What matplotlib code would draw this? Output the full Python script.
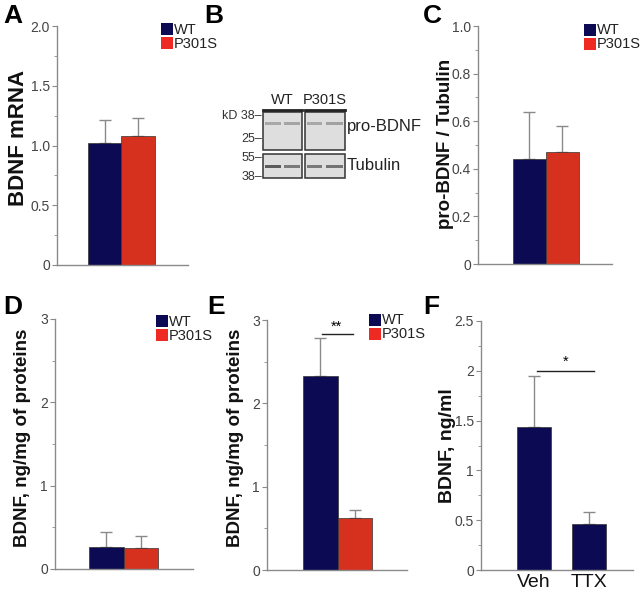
import matplotlib
matplotlib.use('Agg')
import matplotlib.pyplot as plt
from matplotlib.patches import Rectangle
import numpy as np

plt.rcParams['font.family'] = ['Liberation Sans', 'DejaVu Sans']

W, H = 640, 592
NAVY = '#0c0a52'
RED = '#d6301f'
RED_LEG = '#ee2a22'
GREY = '#8a8a8a'
TXT = '#444444'

groups = ['WT', 'P301S']

# panel A: BDNF mRNA
mrna_mean = [1.02, 1.08]
mrna_err = [0.19, 0.15]
# panel C: pro-BDNF / Tubulin
pro_mean = [0.44, 0.47]
pro_err = [0.20, 0.11]
# panel D: BDNF ng/mg (first set)
bdnf_d_mean = [0.26, 0.25]
bdnf_d_err = [0.19, 0.15]
# panel E: BDNF ng/mg (second set)
bdnf_e_mean = [2.33, 0.62]
bdnf_e_err = [0.46, 0.10]
# panel F: BDNF ng/ml, treatment
treat = ['Veh', 'TTX']
treat_mean = [1.44, 0.46]
treat_err = [0.51, 0.12]

# panel B: blot band intensities (0 = none, 1 = black), per lane
lane_groups = ['WT', 'P301S']
kd_upper = ['38', '25']
kd_lower = ['55', '38']
probdnf_band = [0.35, 0.38, 0.35, 0.40]
tubulin_band = [0.85, 0.65, 0.65, 0.70]

fig = plt.figure(figsize=(6.4, 5.92), dpi=100)


def px_axes(x0, y0, x1, y1):
    return fig.add_axes([x0 / W, 1 - y1 / H, (x1 - x0) / W, (y1 - y0) / H])


def ftext(x, y, s, **kw):
    fig.text(x / W, 1 - y / H, s, **kw)


def ylabel_px(x, y, s, size):
    ftext(x, y, s, rotation=90, ha='center', va='center', fontsize=size,
          fontweight='bold', color='#111111')


def legend_box(x, y, labels, colors):
    for i, (lab, c) in enumerate(zip(labels, colors)):
        yy = y + i * 14
        fig.add_artist(Rectangle((x / W, 1 - (yy + 12) / H), 12 / W, 12 / H,
                                 transform=fig.transFigure, color=c, lw=0))
        ftext(x + 12.5, yy + 6.5, lab, fontsize=10.5, color='#222222',
              va='center', ha='left')


def bar_panel(ax, means, errs, colors, ymax, major, minor, ticklabels, xlim,
              width=1.0, xs=None):
    if xs is None:
        xs = np.arange(len(means)) * width
    ax.bar(xs, means, width=width, color=colors, edgecolor='#333333', lw=0.5,
           zorder=2)
    ax.errorbar(xs, means, yerr=[np.zeros(len(errs)), errs], fmt='none',
                ecolor=GREY, elinewidth=1.0, capsize=4, capthick=1.0, zorder=1)
    ax.set_ylim(0, ymax)
    ax.set_xlim(*xlim)
    ax.set_yticks(major)
    ax.set_yticklabels(ticklabels)
    ax.set_yticks(minor, minor=True)
    for s in ['top', 'right']:
        ax.spines[s].set_visible(False)
    for s in ['left', 'bottom']:
        ax.spines[s].set_color(GREY)
        ax.spines[s].set_linewidth(1.0)
    ax.tick_params(axis='y', which='major', length=3.5, color=GREY,
                   labelsize=10, labelcolor=TXT, pad=1.5)
    ax.tick_params(axis='y', which='minor', length=2, color=GREY)
    ax.tick_params(axis='x', length=0)
    ax.set_xticks([])
    return xs


# ---- A
axA = px_axes(57, 26, 188, 265)
bar_panel(axA, mrna_mean, mrna_err, [NAVY, RED], 2.0,
          [0, 0.5, 1.0, 1.5, 2.0], np.arange(0, 2.01, 0.25),
          ['0', '0.5', '1.0', '1.5', '2.0'], (-1.42, 2.48))
ylabel_px(19, 138, 'BDNF mRNA', 16)
legend_box(161, 23, groups, [NAVY, RED_LEG])
ftext(3, 16, 'A', fontsize=19, fontweight='bold', va='center')

# ---- C
axC = px_axes(478, 26, 612, 264)
bar_panel(axC, pro_mean, pro_err, [NAVY, RED], 1.0,
          [0, 0.2, 0.4, 0.6, 0.8, 1.0], np.arange(0, 1.01, 0.1),
          ['0', '0.2', '0.4', '0.6', '0.8', '1.0'], (-1.56, 2.5))
ylabel_px(445, 144, 'pro-BDNF / Tubulin', 13.5)
legend_box(584, 24, groups, [NAVY, RED_LEG])
ftext(423, 16, 'C', fontsize=19, fontweight='bold', va='center')

# ---- D
axD = px_axes(55, 319, 193, 569)
bar_panel(axD, bdnf_d_mean, bdnf_d_err, [NAVY, RED], 3,
          [0, 1, 2, 3], np.arange(0, 3.01, 0.5),
          ['0', '1', '2', '3'], (-1.49, 2.51))
ylabel_px(23, 438, 'BDNF, ng/mg of proteins', 13.5)
legend_box(156, 315, groups, [NAVY, RED_LEG])
ftext(3, 307, 'D', fontsize=19, fontweight='bold', va='center')

# ---- E
axE = px_axes(267, 320, 407, 570)
xsE = bar_panel(axE, bdnf_e_mean, bdnf_e_err, [NAVY, RED], 3,
                [0, 1, 2, 3], np.arange(0, 3.01, 0.5),
                ['0', '1', '2', '3'], (-1.54, 2.51))
ylabel_px(235, 438, 'BDNF, ng/mg of proteins', 13.5)
sigE = max(m + e for m, e in zip(bdnf_e_mean, bdnf_e_err)) + 0.04
axE.plot([xsE[0] + 0.06, xsE[1] - 0.04], [sigE, sigE], color='#222222', lw=1.0)
axE.text((xsE[0] + xsE[1]) / 2 - 0.02, sigE + 0.01, '**', ha='center',
         va='bottom', fontsize=10.5)
legend_box(369, 314, groups, [NAVY, RED_LEG])
ftext(207, 307, 'E', fontsize=19, fontweight='bold', va='center')

# ---- F
axF = px_axes(481, 321, 633, 570)
xsF = bar_panel(axF, treat_mean, treat_err, [NAVY, NAVY], 2.5,
                [0, 0.5, 1, 1.5, 2, 2.5], np.arange(0, 2.51, 0.25),
                ['0', '0.5', '1', '1.5', '2', '2.5'], (-0.96, 1.8),
                width=0.62, xs=np.array([0.0, 1.0]))
axF.set_xticks(xsF)
axF.set_xticklabels(treat, fontsize=14, color='#111111')
axF.tick_params(axis='x', length=0, pad=3)
ylabel_px(447, 446, 'BDNF, ng/ml', 14)
sigF = treat_mean[0] + treat_err[0] + 0.05
axF.plot([0.05, 1.09], [sigF, sigF], color='#222222', lw=1.0)
axF.text(0.57, sigF + 0.02, '*', ha='center', va='bottom', fontsize=10.5)
ftext(423, 307, 'F', fontsize=19, fontweight='bold', va='center')

# ---- B: western blot
axB = px_axes(200, 60, 380, 200)
axB.set_xlim(200, 380)
axB.set_ylim(200, 60)
axB.axis('off')
ftext(204, 16, 'B', fontsize=19, fontweight='bold', va='center')

boxes_x = [(263, 302), (305, 345)]
upper_y = (112, 150)
lower_y = (154, 178)
for (x0, x1), lab in zip(boxes_x, lane_groups):
    axB.text((x0 + x1) / 2, 107, lab, ha='center', va='bottom', fontsize=10.5,
             color='#222222')
    axB.plot([x0, x1], [109.5, 109.5], color='#222222', lw=2.0)
    for y0, y1 in (upper_y, lower_y):
        axB.add_patch(Rectangle((x0, y0), x1 - x0, y1 - y0, facecolor='#dedede',
                                edgecolor='#333333', lw=1.1))

lanes = [(265, 281), (284, 300), (307, 322), (326, 343)]
for (a, b), inten in zip(lanes, probdnf_band):
    g = 0.87 - 0.6 * inten
    axB.add_patch(Rectangle((a, 122), b - a, 2.5, color=str(g), lw=0))
for (a, b), inten in zip(lanes, tubulin_band):
    g = 0.87 - 0.6 * inten
    axB.add_patch(Rectangle((a, 164.5), b - a, 3, color=str(g), lw=0))

kd_style = dict(ha='right', va='center', fontsize=9, color='#333333')
axB.text(262, 116, 'kD ' + kd_upper[0] + '–', **kd_style)
axB.text(262, 139, kd_upper[1] + '–', **kd_style)
axB.text(262, 158, kd_lower[0] + '–', **kd_style)
axB.text(262, 177, kd_lower[1] + '–', **kd_style)
axB.text(347, 127, 'pro-BDNF', ha='left', va='center', fontsize=12,
         color='#222222')
axB.text(347, 165, 'Tubulin', ha='left', va='center', fontsize=12,
         color='#222222')

fig.savefig('out.png', dpi=100)
